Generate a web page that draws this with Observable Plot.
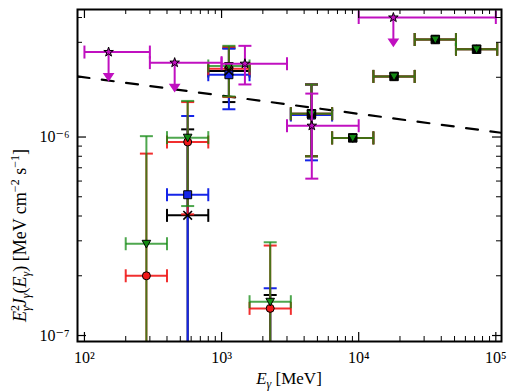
<!DOCTYPE html>
<html>
<head>
<meta charset="utf-8">
<script src="https://cdn.jsdelivr.net/npm/d3@7"></script>
<script src="https://cdn.jsdelivr.net/npm/@observablehq/plot@0.6"></script>
<style>
  body { margin: 0; background: #fff; }
  #chart svg { display: block; }
</style>
</head>
<body>
<div id="chart"></div>
<script>
// Energy bins (MeV): lower edge, upper edge, bin centre
const binLo = [200, 400, 800, 1600, 3200, 6400, 12800, 25600, 51200];
const binHi = [400, 800, 1600, 3200, 6400, 12800, 25600, 51200, 102400];
const binE  = [283, 566, 1131, 2263, 4525, 9051, 18102, 36204, 72408];

// E^2 J(E) in MeV cm^-2 s^-1 ; lower/upper error ends (1e-9 = below the axis floor)
const redVal = [2.0e-7, 9.44e-7, 2.21e-6, 1.37e-7, 1.31e-6, 9.9e-7, 2.02e-6, 3.10e-6, 2.77e-6];
const redLo  = [1e-9, 4.08e-7, 1.59e-6, 1e-9, 8.0e-7, null, null, null, null];
const redHi  = [8.25e-7, 1.50e-6, 2.85e-6, 2.84e-7, 1.84e-6, null, null, null, null];

const greenVal = [2.90e-7, 9.93e-7, 2.28e-6, 1.48e-7, 1.31e-6, 9.9e-7, 2.02e-6, 3.10e-6, 2.77e-6];
const greenLo  = [1e-9, 4.49e-7, 1.60e-6, 1e-9, 8.0e-7, null, null, null, null];
const greenHi  = [1.01e-6, 1.52e-6, 2.88e-6, 2.95e-7, 1.84e-6, null, null, null, null];

const blueVal = [null, 5.12e-7, 2.06e-6, 8.5e-8, 1.29e-6, null, null, null, null];
const blueLo  = [null, 1e-9, 1.38e-6, 1e-9, 7.63e-7, null, null, null, null];
const blueHi  = [null, 1.276e-6, 2.79e-6, 1.73e-7, 1.84e-6, null, null, null, null];

const blackXVal = [null, 4.03e-7, 2.15e-6, 8.5e-8, null, null, null, null, null];
const blackXLo  = [null, 1e-9, 1.50e-6, 1e-9, null, null, null, null, null];
const blackXHi  = [null, 1.093e-6, 2.80e-6, 1.60e-7, null, null, null, null, null];

const blackSqVal = [null, null, null, null, 1.31e-6, 9.9e-7, 2.02e-6, 3.10e-6, 2.77e-6];
const blackSqLo  = [null, null, null, null, 8.0e-7, null, null, null, null];
const blackSqHi  = [null, null, null, null, 1.84e-6, null, null, null, null];

// Magenta points: own energy ranges, some are upper limits
const magE   = [150, 455, 1480, 4550, 17900];
const magLo  = [100, 300, 1000, 3000, 10000];
const magHi  = [300, 1000, 3000, 10000, 100000];
const magVal = [2.68e-6, 2.37e-6, 2.34e-6, 1.14e-6, 4.0e-6];
const magErrLo = [null, null, 1.84e-6, 6.17e-7, null];
const magErrHi = [null, null, 2.88e-6, 1.655e-6, null];
const magUL  = [true, true, false, false, true];

// Reference power law (dashed)
const lineE = [89, 110000];
const lineV = [2.02e-6, 1.05e-6];

// Axis limits and ticks
const xDomain = [89, 110000];
const yDomain = [9.33e-8, 4.39e-6];
const xMajor = [1e2, 1e3, 1e4, 1e5];
const yMajor = [1e-7, 1e-6];

const W = 510, H = 392, mL = 77, mR = 9, mT = 9, mB = 51;
const fw = W - mL - mR, fh = H - mT - mB;

const xMinor = d3.merge([1e2, 1e3, 1e4].map(d => d3.range(2, 10).map(k => k * d)));
const yMinor = d3.merge([1e-8, 1e-7, 1e-6].map(d => d3.range(2, 10).map(k => k * d)))
  .filter(v => v > yDomain[0] && v < yDomain[1]);

function build(val, lo, hi) {
  return binE.map((e, i) => ({E: e, e0: binLo[i], e1: binHi[i], v: val[i], lo: lo[i], hi: hi[i]}))
    .filter(d => d.v != null);
}
const magRows = magE.map((e, i) => ({E: e, e0: magLo[i], e1: magHi[i], v: magVal[i], lo: magErrLo[i], hi: magErrHi[i], ul: magUL[i]}));

// Custom symbols
const rOf = size => Math.sqrt(size / Math.PI);
const hCap = {draw(c, s) { const r = rOf(s); c.moveTo(-r, 0); c.lineTo(r, 0); }};
const vCap = {draw(c, s) { const r = rOf(s); c.moveTo(0, -r); c.lineTo(0, r); }};
const triDown = {draw(c, s) { const r = rOf(s); c.moveTo(0, r); c.lineTo(-r, -r * 0.8); c.lineTo(r, -r * 0.8); c.closePath(); }};
const ulArrow = {draw(c, s) {
  const L = 28;
  c.moveTo(0, 0); c.lineTo(0, L - 5);
  c.moveTo(-4, L - 6); c.lineTo(4, L - 6); c.lineTo(0, L); c.closePath();
}};

function errorMarks(rows, color, opts = {}) {
  const op = opts.opacity ?? 1;
  const withErr = rows.filter(d => d.lo != null);
  const common = {stroke: color, strokeWidth: 2, strokeOpacity: op, clip: true};
  return [
    Plot.link(withErr, {x1: "E", x2: "E", y1: "lo", y2: "hi", ...common}),
    Plot.link(rows, {x1: "e0", x2: "e1", y1: "v", y2: "v", ...common}),
    Plot.dot(withErr, {x: "E", y: "hi", symbol: hCap, r: 6.5, fill: "none", ...common}),
    Plot.dot(withErr, {x: "E", y: "lo", symbol: hCap, r: 6.5, fill: "none", ...common}),
    Plot.dot(rows, {x: "e0", y: "v", symbol: vCap, r: 6.5, fill: "none", ...common}),
    Plot.dot(rows, {x: "e1", y: "v", symbol: vCap, r: 6.5, fill: "none", ...common})
  ];
}

const red = build(redVal, redLo, redHi);
const green = build(greenVal, greenLo, greenHi);
const blue = build(blueVal, blueLo, blueHi);
const blackX = build(blackXVal, blackXLo, blackXHi);
const blackSq = build(blackSqVal, blackSqLo, blackSqHi);

const cRed = "#f01818", cGreen = "#138a13", cBlue = "#1525e8", cMag = "#c010c0";

const supMap = {"-": "\u207B", "0": "\u2070", "1": "\u00B9", "2": "\u00B2", "3": "\u00B3", "4": "\u2074",
  "5": "\u2075", "6": "\u2076", "7": "\u2077", "8": "\u2078", "9": "\u2079"};
const fmtPow = v => "10" + String(Math.round(Math.log10(v))).split("").map(ch => supMap[ch]).join("");

const chart = Plot.plot({
  width: W, height: H,
  marginLeft: mL, marginRight: mR, marginTop: mT, marginBottom: mB,
  style: {fontFamily: "'Liberation Serif', 'DejaVu Serif', serif", fontSize: "16px", background: "#fff", color: "#000"},
  x: {type: "log", domain: xDomain},
  y: {type: "log", domain: yDomain},
  marks: [
    // dashed power law
    Plot.line(lineE.map((e, i) => ({E: e, v: lineV[i]})), {x: "E", y: "v", stroke: "#000", strokeWidth: 2.2, strokeDasharray: "12,12.5", clip: true}),

    // error bars, back to front
    ...errorMarks(blackX, "#000"),
    ...errorMarks(blackSq, "#000"),
    ...errorMarks(blue, cBlue),
    ...errorMarks(red, cRed, {opacity: 0.9}),
    ...errorMarks(green, cGreen, {opacity: 0.75}),

    // markers
    Plot.dot(red, {x: "E", y: "v", symbol: "circle", r: 4, fill: cRed, stroke: "#000", strokeWidth: 1, clip: true}),
    Plot.dot(blue, {x: "E", y: "v", symbol: "square", r: 4.5, fill: cBlue, stroke: "#000", strokeWidth: 1, clip: true}),
    Plot.dot(blackSq, {x: "E", y: "v", symbol: "square", r: 4.8, fill: "#000", stroke: "#000", strokeWidth: 1, clip: true}),
    Plot.dot(green, {x: "E", y: "v", symbol: triDown, r: 4.3, fill: cGreen, stroke: "#000", strokeWidth: 1, clip: true}),
    Plot.dot(blackX, {x: "E", y: "v", symbol: "times", r: 4, stroke: "#000", strokeWidth: 1.6, clip: true}),

    // magenta points
    ...errorMarks(magRows, cMag),
    Plot.dot(magRows.filter(d => d.ul), {x: "E", y: "v", symbol: ulArrow, r: 10, fill: cMag, stroke: cMag, strokeWidth: 2}),
    Plot.dot(magRows, {x: "E", y: "v", symbol: "star", r: 3, fill: cMag, stroke: "#000", strokeWidth: 1}),

    // inward ticks on all four sides
    Plot.ruleX(xMajor, {insetTop: fh - 9, stroke: "#000", strokeWidth: 1.2}),
    Plot.ruleX(xMajor, {insetBottom: fh - 9, stroke: "#000", strokeWidth: 1.2}),
    Plot.ruleX(xMinor, {insetTop: fh - 5, stroke: "#000", strokeWidth: 1}),
    Plot.ruleX(xMinor, {insetBottom: fh - 5, stroke: "#000", strokeWidth: 1}),
    Plot.ruleY(yMajor, {insetRight: fw - 9, stroke: "#000", strokeWidth: 1.2}),
    Plot.ruleY(yMajor, {insetLeft: fw - 9, stroke: "#000", strokeWidth: 1.2}),
    Plot.ruleY(yMinor, {insetRight: fw - 5, stroke: "#000", strokeWidth: 1}),
    Plot.ruleY(yMinor, {insetLeft: fw - 5, stroke: "#000", strokeWidth: 1}),

    Plot.axisX(xMajor, {tickSize: 0, tickPadding: 10, tickFormat: fmtPow, label: null, fontSize: 16}),
    Plot.axisY(yMajor, {tickSize: 0, tickPadding: 8, tickFormat: fmtPow, label: null, fontSize: 16}),
    Plot.frame({stroke: "#000", strokeWidth: 2})
  ]
});

document.getElementById("chart").appendChild(chart);

// Axis titles with sub/superscripts
const svg = d3.select(chart);
const font = "'Liberation Serif', 'DejaVu Serif', serif";

const xl = svg.append("text")
  .attr("x", mL + fw / 2).attr("y", H - 8)
  .attr("text-anchor", "middle").attr("font-family", font).attr("font-size", 17).attr("fill", "#000");
xl.append("tspan").attr("font-style", "italic").text("E");
xl.append("tspan").attr("font-style", "italic").attr("font-size", 12).attr("dy", 4).text("\u03B3");
xl.append("tspan").attr("dy", -4).text(" [MeV]");

const yl = svg.append("text")
  .attr("transform", "translate(26,322) rotate(-90)")
  .attr("text-anchor", "start").attr("font-family", font).attr("font-size", 18).attr("fill", "#000");
yl.append("tspan").attr("font-style", "italic").text("E");
yl.append("tspan").attr("font-size", 12).attr("dy", -7).text("2");
yl.append("tspan").attr("font-style", "italic").attr("font-size", 12).attr("dx", -6).attr("dy", 11).text("\u03B3");
yl.append("tspan").attr("font-style", "italic").attr("dy", -4).text("J");
yl.append("tspan").attr("font-style", "italic").attr("font-size", 12).attr("dy", 4).text("\u03B3");
yl.append("tspan").attr("dy", -4).text("(");
yl.append("tspan").attr("font-style", "italic").text("E");
yl.append("tspan").attr("font-style", "italic").attr("font-size", 12).attr("dy", 4).text("\u03B3");
yl.append("tspan").attr("dy", -4).text(") [MeV cm");
yl.append("tspan").attr("font-size", 12).attr("dy", -7).text("\u22122");
yl.append("tspan").attr("dy", 7).text(" s");
yl.append("tspan").attr("font-size", 12).attr("dy", -7).text("\u22121");
yl.append("tspan").attr("dy", 7).text("]");
</script>
</body>
</html>
